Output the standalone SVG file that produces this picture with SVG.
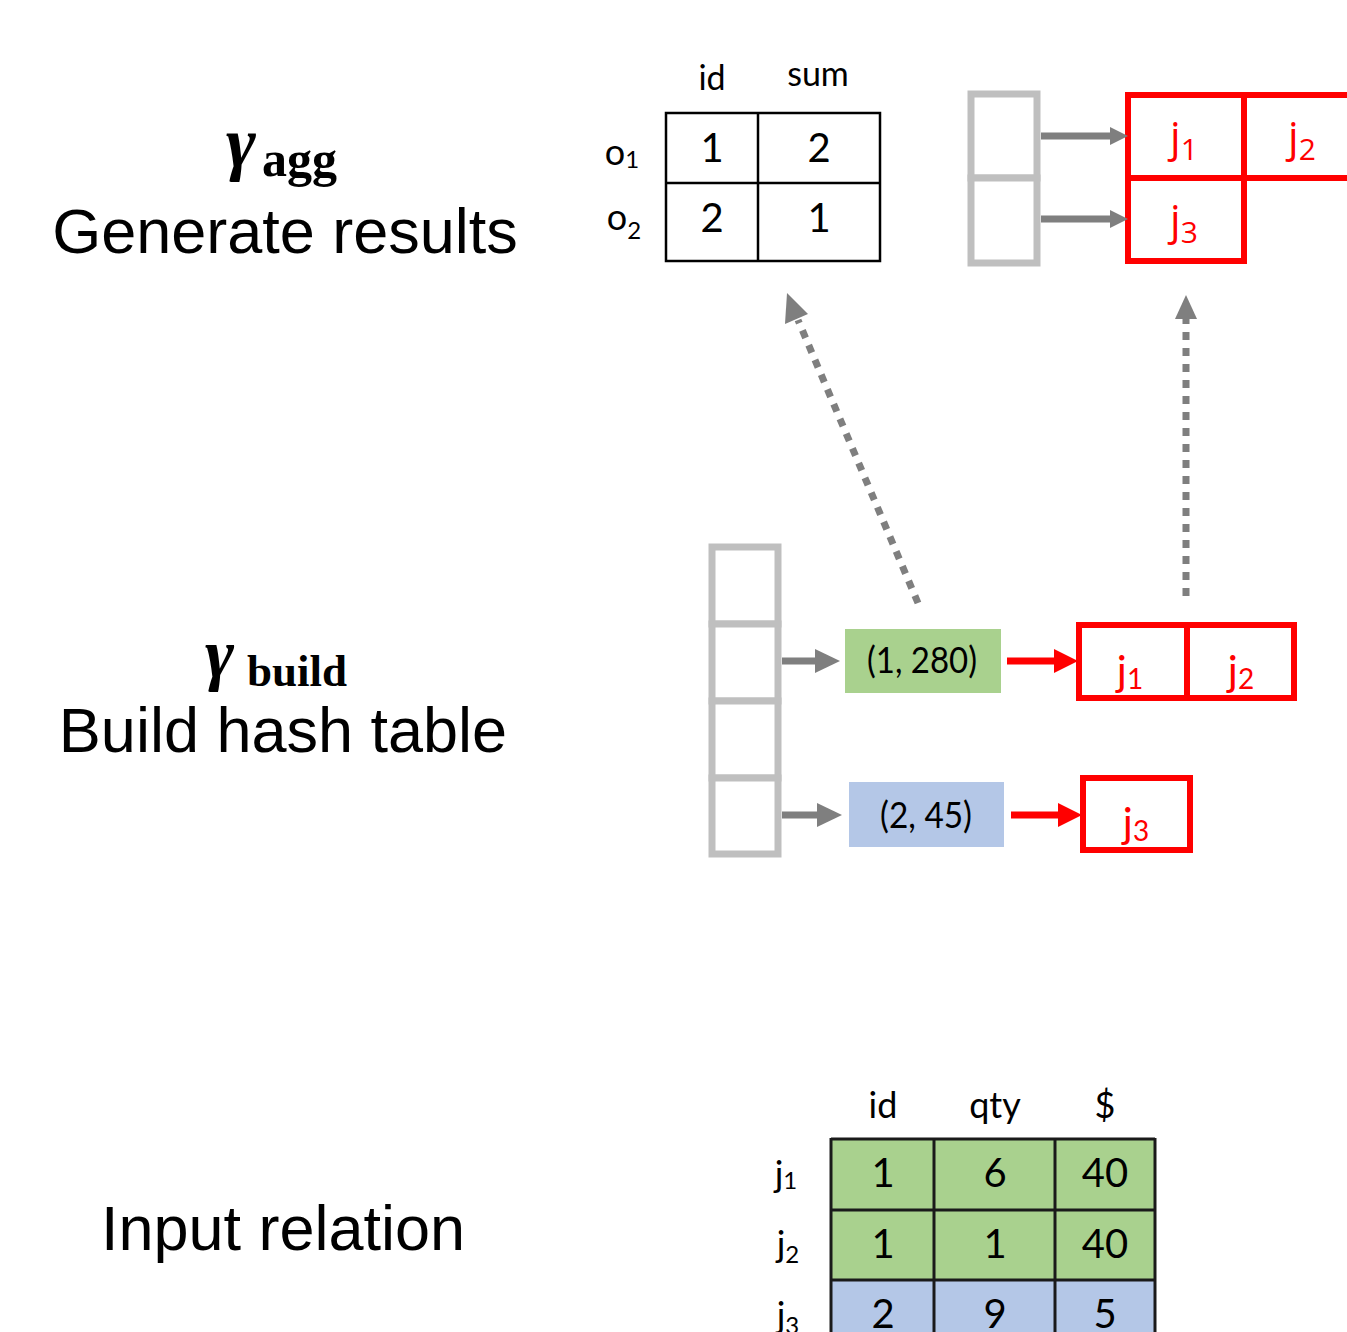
<svg xmlns="http://www.w3.org/2000/svg" width="1347" height="1332" viewBox="0 0 1347 1332">
  <style>
    .title { font-family: "Liberation Sans", Arial, sans-serif; font-size: 63px; fill: #000; text-anchor: middle; }
    .gamma { font-family: "Liberation Serif", "DejaVu Serif", serif; font-weight: bold; font-style: italic; fill: #000; }
    .sub { font-family: "Liberation Serif", "DejaVu Serif", serif; font-weight: bold; fill: #000; }
    .gs { font-family: Lato, "Open Sans", sans-serif; fill: #000; text-anchor: middle; }
    .red { font-family: "Open Sans", Lato, sans-serif; fill: #ff0000; text-anchor: middle; }
    .redgs { font-family: Lato, "Open Sans", sans-serif; fill: #ff0000; text-anchor: middle; }
    .bucket { fill: #fff; stroke: #bfbfbf; stroke-width: 7; }
    .chain { fill: #fff; stroke: #ff0000; stroke-width: 6; }
    .grid { fill: none; stroke: #000; stroke-width: 2.5; }
    .tgrid { stroke: #1a1a1a; stroke-width: 3; }
    .garrow { stroke: #7f7f7f; stroke-width: 7; fill: none; }
    .rarrow { stroke: #ff0000; stroke-width: 7; fill: none; }
    .dots { stroke: #7f7f7f; stroke-width: 7; stroke-dasharray: 8 8; fill: none; }
  </style>

  <!-- row labels: stage names -->
  <g id="label-agg">
    <text x="226" y="167" class="gamma" font-size="72">γ</text>
    <text x="262" y="176" class="sub" font-size="50">agg</text>
    <text x="285" y="253" class="title">Generate results</text>
  </g>
  <g id="label-build">
    <text x="205" y="677" class="gamma" font-size="70">γ</text>
    <text x="247" y="686" class="sub" font-size="45">build</text>
    <text x="283" y="752" class="title">Build hash table</text>
  </g>
  <g id="label-input">
    <text x="283" y="1250" class="title">Input relation</text>
  </g>

  <!-- aggregated output table -->
  <g id="agg-table">
    <text x="712" y="90" class="gs" font-size="34">id</text>
    <text x="818" y="86" class="gs" font-size="34">sum</text>
    <text x="622" y="165" class="gs" font-size="36">o<tspan font-size="24" dy="3">1</tspan></text>
    <text x="624" y="230" class="gs" font-size="36">o<tspan font-size="24" dy="9">2</tspan></text>
    <rect x="666" y="113" width="214" height="148" class="grid"/>
    <line x1="758" y1="113" x2="758" y2="261" class="grid"/>
    <line x1="666" y1="183" x2="880" y2="183" class="grid"/>
    <text x="712" y="162" class="gs" font-size="40">1</text>
    <text x="819" y="162" class="gs" font-size="40">2</text>
    <text x="712" y="232" class="gs" font-size="40">2</text>
    <text x="819" y="232" class="gs" font-size="40">1</text>
  </g>

  <!-- result buckets pointing at tuple chains -->
  <g id="agg-buckets">
    <rect x="971" y="94" width="66" height="84" class="bucket"/>
    <rect x="971" y="178" width="66" height="85" class="bucket"/>
  </g>
  <g id="agg-chain-1">
    <rect x="1128" y="95" width="116" height="83" class="chain"/>
    <rect x="1244" y="95" width="120" height="83" class="chain"/>
    <text x="1184" y="152" class="red" font-size="42">j<tspan font-size="30" dy="8">1</tspan></text>
    <text x="1302" y="152" class="red" font-size="42">j<tspan font-size="30" dy="8">2</tspan></text>
  </g>
  <g id="agg-chain-2">
    <rect x="1128" y="178" width="116" height="83" class="chain"/>
    <text x="1184" y="235" class="red" font-size="42">j<tspan font-size="30" dy="8">3</tspan></text>
  </g>

  <!-- hash table buckets -->
  <g id="hash-buckets">
    <rect x="712" y="547" width="66" height="77" class="bucket"/>
    <rect x="712" y="624" width="66" height="77" class="bucket"/>
    <rect x="712" y="701" width="66" height="77" class="bucket"/>
    <rect x="712" y="778" width="66" height="76" class="bucket"/>
  </g>

  <g id="key-1">
    <rect x="845" y="629" width="156" height="64" fill="#a9d18e"/>
    <text x="922" y="673" class="gs" font-size="36" textLength="110" lengthAdjust="spacingAndGlyphs">(1, 280)</text>
  </g>
  <g id="key-2">
    <rect x="849" y="782" width="155" height="65" fill="#b4c7e7"/>
    <text x="926" y="828" class="gs" font-size="36" textLength="92" lengthAdjust="spacingAndGlyphs">(2, 45)</text>
  </g>

  <g id="build-chain-1">
    <rect x="1079" y="625" width="108" height="73" class="chain"/>
    <rect x="1187" y="625" width="107" height="73" class="chain"/>
    <text x="1130" y="686" class="redgs" font-size="42">j<tspan font-size="28" dy="3">1</tspan></text>
    <text x="1241" y="686" class="redgs" font-size="42">j<tspan font-size="28" dy="3">2</tspan></text>
  </g>
  <g id="build-chain-2">
    <rect x="1083" y="778" width="107" height="72" class="chain"/>
    <text x="1136" y="838" class="redgs" font-size="42">j<tspan font-size="28" dy="3">3</tspan></text>
  </g>

  <!-- input relation -->
  <g id="input-table">
    <text x="883" y="1118" class="gs" font-size="36">id</text>
    <text x="995" y="1118" class="gs" font-size="36">qty</text>
    <text x="1105" y="1118" class="gs" font-size="36">$</text>
    <text x="786" y="1187" class="gs" font-size="36">j<tspan font-size="24" dy="2">1</tspan></text>
    <text x="788" y="1257" class="gs" font-size="36">j<tspan font-size="24" dy="6">2</tspan></text>
    <text x="788" y="1328" class="gs" font-size="36">j<tspan font-size="24" dy="6">3</tspan></text>
    <rect x="831" y="1139" width="324" height="71" fill="#a9d18e"/>
    <rect x="831" y="1210" width="324" height="70" fill="#a9d18e"/>
    <rect x="831" y="1280" width="324" height="60" fill="#b4c7e7"/>
    <line x1="831" y1="1139" x2="1155" y2="1139" class="tgrid"/>
    <line x1="831" y1="1210" x2="1155" y2="1210" class="tgrid"/>
    <line x1="831" y1="1280" x2="1155" y2="1280" class="tgrid"/>
    <line x1="831" y1="1138" x2="831" y2="1332" class="tgrid"/>
    <line x1="934" y1="1138" x2="934" y2="1332" class="tgrid"/>
    <line x1="1055" y1="1138" x2="1055" y2="1332" class="tgrid"/>
    <line x1="1155" y1="1138" x2="1155" y2="1332" class="tgrid"/>
    <text x="883" y="1187" class="gs" font-size="40">1</text>
    <text x="995" y="1187" class="gs" font-size="40">6</text>
    <text x="1105" y="1187" class="gs" font-size="40">40</text>
    <text x="883" y="1258" class="gs" font-size="40">1</text>
    <text x="995" y="1258" class="gs" font-size="40">1</text>
    <text x="1105" y="1258" class="gs" font-size="40">40</text>
    <text x="883" y="1328" class="gs" font-size="40">2</text>
    <text x="995" y="1328" class="gs" font-size="40">9</text>
    <text x="1105" y="1328" class="gs" font-size="40">5</text>
  </g>

  <!-- connectors -->
  <g id="connectors">
    <!-- bucket to result chains -->
    <line x1="1041" y1="136" x2="1112" y2="136" class="garrow" stroke-width="6"/>
    <polygon points="1110,127 1128,136 1110,145" fill="#7f7f7f"/>
    <line x1="1041" y1="219" x2="1112" y2="219" class="garrow" stroke-width="6"/>
    <polygon points="1110,210 1128,219 1110,228" fill="#7f7f7f"/>

    <!-- bucket to key entries -->
    <line x1="782" y1="661" x2="817" y2="661" class="garrow"/>
    <polygon points="815,649 840,661 815,673" fill="#7f7f7f"/>
    <line x1="782" y1="815" x2="819" y2="815" class="garrow"/>
    <polygon points="817,803 842,815 817,827" fill="#7f7f7f"/>

    <!-- key entries to tuple chains -->
    <line x1="1007" y1="661" x2="1056" y2="661" class="rarrow"/>
    <polygon points="1054,649 1078,661 1054,673" fill="#ff0000"/>
    <line x1="1011" y1="815" x2="1060" y2="815" class="rarrow"/>
    <polygon points="1058,803 1082,815 1058,827" fill="#ff0000"/>

    <!-- dotted transitions up to the aggregate stage -->
    <line x1="918" y1="603" x2="798" y2="320" class="dots"/>
    <polygon points="787,293 808,314 785,324" fill="#7f7f7f"/>
    <line x1="1186" y1="596" x2="1186" y2="318" class="dots"/>
    <polygon points="1186,295 1197,319 1175,319" fill="#7f7f7f"/>
  </g>
</svg>
